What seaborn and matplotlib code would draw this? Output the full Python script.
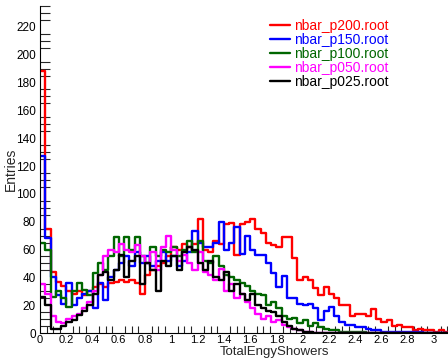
import numpy as np
import pandas as pd
import matplotlib
matplotlib.use('Agg')
import matplotlib.pyplot as plt
from matplotlib.lines import Line2D
from matplotlib.ticker import MultipleLocator, FuncFormatter
import seaborn as sns

# bin edges: 0.04 wide, 0 .. 3.12
edges = [round(0.04 * i, 2) for i in range(79)]
centers = [(a + b) / 2 for a, b in zip(edges[:-1], edges[1:])]

p200 = [188, 75, 44, 37, 34, 30, 28, 30, 27, 30, 33, 35, 33, 36, 37, 38, 37, 38, 36, 28,
        42, 45, 48, 50, 55, 62, 60, 64, 62, 64, 82, 60, 58, 66, 64, 78, 79, 56, 78, 80,
        82, 75, 72, 65, 63, 62, 69, 69, 54, 38, 40, 38, 32, 27, 33, 28, 25, 20, 20, 12,
        14, 14, 12, 17, 10, 8, 9, 5, 6, 4, 4, 2, 3, 2, 2, 1, 2, 1]
p150 = [127, 68, 40, 27, 21, 36, 20, 25, 28, 30, 18, 36, 24, 40, 45, 50, 55, 48, 58, 50,
        55, 48, 52, 58, 52, 55, 48, 52, 58, 73, 65, 62, 62, 65, 80, 60, 65, 76, 57, 70,
        60, 56, 56, 50, 43, 33, 41, 25, 25, 21, 20, 21, 18, 9, 16, 19, 12, 8, 6, 6,
        4, 4, 3, 2, 2, 1, 1, 1, 1, 1, 1, 1, 1, 0, 0, 0, 0, 0]
p100 = [65, 60, 26, 30, 25, 19, 30, 36, 31, 27, 43, 50, 45, 55, 69, 55, 69, 60, 69, 55,
        50, 62, 55, 60, 58, 62, 55, 60, 66, 58, 66, 52, 50, 55, 48, 42, 40, 38, 36, 34,
        30, 28, 27, 20, 22, 18, 12, 10, 11, 7, 9, 5, 7, 4, 3, 2, 2, 1, 1, 1,
        1, 1, 0, 0, 0, 0, 0, 0, 0, 0, 0, 0, 0, 0, 0, 0, 0, 0]
p050 = [35, 28, 12, 8, 7, 10, 12, 14, 18, 22, 30, 42, 55, 60, 58, 64, 60, 58, 63, 55,
        50, 58, 45, 62, 70, 60, 52, 56, 50, 45, 58, 44, 42, 38, 46, 30, 35, 25, 28, 22,
        18, 14, 10, 12, 8, 9, 6, 4, 3, 2, 1, 1, 0, 0, 0, 0, 0, 0, 0, 0,
        0, 0, 0, 0, 0, 0, 0, 0, 0, 0, 0, 0, 0, 0, 0, 0, 0, 0]
p025 = [26, 20, 3, 3, 5, 8, 9, 13, 16, 20, 28, 42, 44, 38, 45, 56, 40, 52, 55, 35,
        50, 45, 30, 52, 48, 55, 45, 58, 62, 60, 50, 45, 52, 40, 38, 44, 30, 35, 28, 24,
        28, 20, 18, 16, 15, 12, 8, 5, 3, 2, 1, 1, 0, 0, 0, 0, 0, 0, 0, 0,
        0, 0, 0, 0, 0, 0, 0, 0, 0, 0, 0, 0, 0, 0, 0, 0, 0, 0]

names = ['nbar_p200.root', 'nbar_p150.root', 'nbar_p100.root', 'nbar_p050.root', 'nbar_p025.root']
series = [p200, p150, p100, p050, p025]
colors = ['#ff0000', '#0000ff', '#006600', '#ff00ff', '#000000']

sns.set_style('white')
plt.rcParams['font.family'] = ['Liberation Sans', 'DejaVu Sans']

fig = plt.figure(figsize=(4.48, 3.59), dpi=100)
ax = fig.add_axes([40 / 448, 26 / 359, 408 / 448, 327 / 359])

for name, vals, col in zip(names, series, colors):
    df = pd.DataFrame({'x': centers, 'w': vals})
    sns.histplot(data=df, x='x', weights='w', bins=edges, element='step', fill=False,
                 color=col, linewidth=1.7, ax=ax)

ax.set_xlim(0, 3.107)
ax.set_ylim(0, 235)

ax.xaxis.set_major_locator(MultipleLocator(0.2))
ax.xaxis.set_minor_locator(MultipleLocator(0.05))
ax.yaxis.set_major_locator(MultipleLocator(20))
ax.yaxis.set_minor_locator(MultipleLocator(5))
ax.xaxis.set_major_formatter(FuncFormatter(lambda v, p: '%g' % round(v, 2)))
ax.tick_params(axis='x', which='major', direction='in', length=10, width=0.8, labelsize=8, pad=1.5, colors='black')
ax.tick_params(axis='x', which='minor', direction='in', length=5, width=0.8, bottom=True)
ax.tick_params(axis='y', which='major', direction='in', length=13, width=0.8, labelsize=8.5, pad=3, colors='black')
ax.tick_params(axis='y', which='minor', direction='in', length=7, width=0.8, left=True)

for s in ['top', 'right']:
    ax.spines[s].set_visible(False)
for s in ['left', 'bottom']:
    ax.spines[s].set_color('black')
    ax.spines[s].set_linewidth(0.8)

ax.set_xlabel('TotalEngyShowers', fontsize=9.5, ha='right')
ax.xaxis.set_label_coords((329 - 40) / 408, -13.5 / 327)
ax.set_ylabel('Entries', fontsize=10)
ax.yaxis.set_label_coords(-22 / 408, 0.5)

handles = [Line2D([], [], color=c, linewidth=1.7) for c in colors]
leg = ax.legend(handles, names, loc='upper left', bbox_to_anchor=(270 / 448, 1 - 19 / 359),
                bbox_transform=fig.transFigure, frameon=False, fontsize=10,
                handlelength=1.45, handletextpad=0.3, labelspacing=0.0, borderpad=0,
                borderaxespad=0)
for t, c in zip(leg.get_texts(), colors):
    t.set_color(c)

fig.savefig('out.png', dpi=100)
